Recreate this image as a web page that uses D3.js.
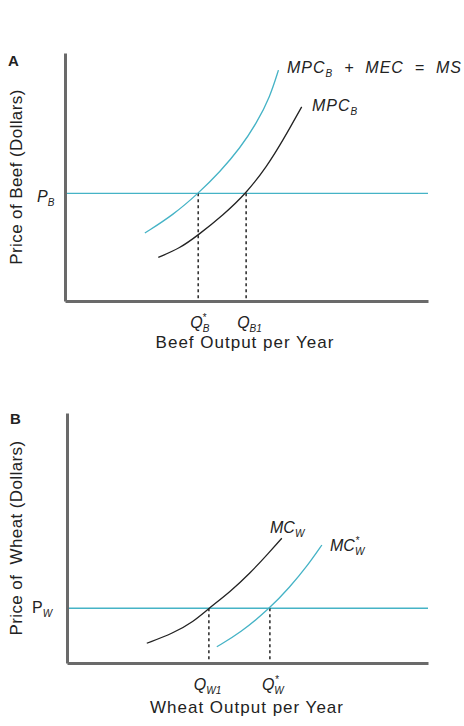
<!DOCTYPE html>
<html>
<head>
<meta charset="utf-8">
<script src="https://cdn.jsdelivr.net/npm/d3@7"></script>
<style>
  body { margin: 0; background: #fff; }
  text { font-family: "Liberation Sans", Arial, sans-serif; fill: #222; }
</style>
</head>
<body>
<svg id="chart" width="464" height="726"></svg>
<script>
// panel A: beef (x, y in 0-100 units)
const beefSocial = [[22.0, 27.4], [29.8, 34.7], [36.7, 43.4], [42.7, 52.1], [48.2, 61.6], [52.8, 71.7], [56.5, 82.4], [58.8, 93.1]];
const beefPrivate = [[25.7, 17.6], [31.7, 21.3], [36.7, 26.6], [43.6, 34.7], [49.9, 43.4], [55.6, 54.2], [60.1, 64.9], [65.2, 78.3]];
const beefPrice = 43.4;
const beefQty = [36.7, 49.9];

// panel B: wheat
const wheatMC = [[22.1, 7.9], [29.4, 11.9], [35.0, 16.5], [39.3, 21.9], [45.2, 28.5], [50.7, 35.9], [55.8, 43.9], [59.5, 49.9]];
const wheatMCStar = [[41.5, 6.5], [47.9, 11.9], [56.2, 21.9], [61.8, 30.5], [66.4, 38.5], [70.6, 47.2]];
const wheatPrice = 21.9;
const wheatQty = [39.3, 56.2];

const CYAN = "#45b3c6", BLACK = "#222", AXIS = "#6a6a6a";
const svg = d3.select("#chart");

function panel(opt) {
  const x = d3.scaleLinear().domain([0, 100]).range(opt.xr);
  const y = d3.scaleLinear().domain([0, 100]).range(opt.yr);
  const g = svg.append("g");

  const line = d3.line().x(d => x(d[0])).y(d => y(d[1])).curve(d3.curveBasis);

  // price line
  g.append("line")
    .attr("x1", x(0)).attr("x2", x(100))
    .attr("y1", y(opt.price)).attr("y2", y(opt.price))
    .attr("stroke", CYAN).attr("stroke-width", 1.3);

  // dashed drops
  opt.qty.forEach(q => {
    g.append("line")
      .attr("x1", x(q)).attr("x2", x(q))
      .attr("y1", y(opt.price)).attr("y2", y(0))
      .attr("stroke", "#333").attr("stroke-width", 1.6)
      .attr("stroke-dasharray", "3,3");
  });

  opt.curves.forEach(c => {
    g.append("path").datum(c.data)
      .attr("fill", "none").attr("stroke", c.color).attr("stroke-width", 1.3)
      .attr("d", line);
  });

  // axes
  const ax = g.append("g").attr("transform", `translate(0,${y(0)})`)
    .call(d3.axisBottom(x).tickValues([]).tickSizeOuter(0));
  const ay = g.append("g").attr("transform", `translate(${x(0)},0)`)
    .call(d3.axisLeft(y).tickValues([]).tickSizeOuter(0));
  [ax, ay].forEach(a => a.select(".domain").attr("stroke", AXIS).attr("stroke-width", 3));

  return { g, x, y };
}

function label(g, xp, yp, parts, opts) {
  const t = g.append("text").attr("x", xp).attr("y", yp)
    .attr("font-size", (opts && opts.size) || 16)
    .attr("letter-spacing", (opts && opts.ls) || 0)
    .attr("xml:space", "preserve");
  parts.forEach(p => {
    const s = t.append("tspan").text(p.t);
    if (p.italic !== false) s.attr("font-style", "italic");
    if (p.sub) s.attr("font-size", 10).attr("dy", p.dy || 4);
    if (p.sup) s.attr("font-size", 10).attr("dy", p.dy || -6);
    if (p.dx) s.attr("dx", p.dx);
    if (p.back) s.attr("dy", p.back);
  });
  return t;
}

// ---- panel A
const A = panel({
  xr: [65, 428], yr: [301, 53],
  price: beefPrice, qty: beefQty,
  curves: [{ data: beefSocial, color: CYAN }, { data: beefPrivate, color: BLACK }]
});
A.g.append("text").attr("x", 8).attr("y", 66).attr("font-size", 15).attr("font-weight", "bold").text("A");
A.g.append("text").attr("transform", "translate(22,177) rotate(-90)").attr("text-anchor", "middle")
  .attr("font-size", 17).attr("letter-spacing", 0.4).text("Price of Beef (Dollars)");
A.g.append("text").attr("x", 245).attr("y", 348).attr("text-anchor", "middle")
  .attr("font-size", 17).attr("letter-spacing", 1).text("Beef Output per Year");
label(A.g, 37, 202, [{ t: "P" }, { t: "B", sub: true }]);
label(A.g, 287, 73, [{ t: "MPC" }, { t: "B", sub: true }, { t: "  +  MEC  =  MS", back: -4 }], { size: 16, ls: 1 });
label(A.g, 312, 111, [{ t: "MPC" }, { t: "B", sub: true }], { size: 16, ls: 1 });
label(A.g, A.x(beefQty[0]) - 8, 328, [{ t: "Q" }, { t: "B", sub: true, dy: 4 }, { t: "*", sup: true, dx: -7, dy: -11 }], { size: 16 });
label(A.g, A.x(beefQty[1]) - 9, 328, [{ t: "Q" }, { t: "B1", sub: true }], { size: 16 });

// ---- panel B
const B = panel({
  xr: [67, 428], yr: [663, 413],
  price: wheatPrice, qty: wheatQty,
  curves: [{ data: wheatMC, color: BLACK }, { data: wheatMCStar, color: CYAN }]
});
B.g.append("text").attr("x", 10).attr("y", 424).attr("font-size", 15).attr("font-weight", "bold").text("B");
B.g.append("text").attr("transform", "translate(22,538) rotate(-90)").attr("text-anchor", "middle")
  .attr("font-size", 17).attr("letter-spacing", 0.4).attr("xml:space", "preserve").text("Price of  Wheat (Dollars)");
B.g.append("text").attr("x", 247).attr("y", 713).attr("text-anchor", "middle")
  .attr("font-size", 17).attr("letter-spacing", 1).text("Wheat Output per Year");
label(B.g, 32, 613, [{ t: "P", italic: false }, { t: "W", sub: true }]);
label(B.g, 270, 533, [{ t: "MC" }, { t: "W", sub: true }], { size: 16 });
label(B.g, 330, 551, [{ t: "MC" }, { t: "W", sub: true, dy: 4 }, { t: "*", sup: true, dx: -9, dy: -11 }], { size: 16 });
label(B.g, B.x(wheatQty[0]) - 15, 690, [{ t: "Q" }, { t: "W1", sub: true }], { size: 16 });
label(B.g, B.x(wheatQty[1]) - 8, 690, [{ t: "Q" }, { t: "W", sub: true, dy: 4 }, { t: "*", sup: true, dx: -9, dy: -11 }], { size: 16 });
</script>
</body>
</html>
